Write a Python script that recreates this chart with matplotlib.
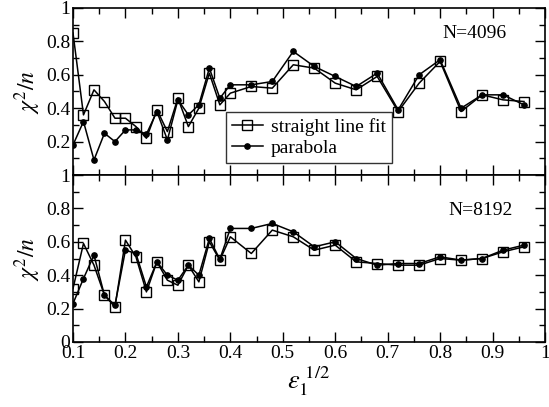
import matplotlib
matplotlib.use("Agg")
import matplotlib.pyplot as plt
from matplotlib.ticker import MultipleLocator

plt.rcParams['font.family'] = ['Liberation Serif', 'DejaVu Serif']
plt.rcParams['mathtext.fontset'] = 'stix'

x = [0.10, 0.12, 0.14, 0.16, 0.18, 0.20, 0.22, 0.24, 0.26, 0.28, 0.30, 0.32, 0.34, 0.36, 0.38, 0.40,
     0.44, 0.48, 0.52, 0.56, 0.60, 0.64, 0.68, 0.72, 0.76, 0.80, 0.84, 0.88, 0.92, 0.96]

line_4096 = [0.85, 0.36, 0.51, 0.44, 0.34, 0.34, 0.29, 0.22, 0.39, 0.26, 0.46, 0.29, 0.40, 0.61, 0.42, 0.49,
             0.53, 0.52, 0.66, 0.64, 0.55, 0.51, 0.59, 0.38, 0.55, 0.68, 0.38, 0.48, 0.45, 0.44]
para_4096 = [0.18, 0.32, 0.09, 0.25, 0.20, 0.27, 0.27, 0.245, 0.38, 0.21, 0.45, 0.36, 0.42, 0.64, 0.46, 0.54,
             0.54, 0.56, 0.74, 0.65, 0.59, 0.53, 0.61, 0.39, 0.60, 0.69, 0.40, 0.48, 0.48, 0.42]

line_8192 = [0.32, 0.59, 0.46, 0.28, 0.21, 0.61, 0.51, 0.30, 0.48, 0.37, 0.34, 0.46, 0.36, 0.60, 0.49, 0.63,
             0.53, 0.67, 0.63, 0.55, 0.58, 0.48, 0.47, 0.46, 0.46, 0.50, 0.49, 0.50, 0.54, 0.57]
para_8192 = [0.23, 0.38, 0.52, 0.28, 0.22, 0.55, 0.53, 0.33, 0.48, 0.40, 0.37, 0.46, 0.40, 0.62, 0.495, 0.68,
             0.68, 0.71, 0.66, 0.57, 0.60, 0.50, 0.46, 0.47, 0.47, 0.51, 0.49, 0.50, 0.55, 0.58]

labels = ["straight line fit", "parabola"]
panel_texts = ["N=4096", "N=8192"]

W, H = 549, 407
fig = plt.figure(figsize=(W/100, H/100), dpi=100)
left, right = 73/W, 545/W
ax1 = fig.add_axes([left, 1-175/H, right-left, 167/H])
ax2 = fig.add_axes([left, 1-342/H, right-left, 167/H])

fs = 14
for ax, ly, py, txt, tpos in [(ax1, line_4096, para_4096, panel_texts[0], (0.804, 0.85)),
                              (ax2, line_8192, para_8192, panel_texts[1], (0.816, 0.79))]:
    ax.plot(x, ly, color='black', lw=1.1, marker='s', ms=7, mfc='none', mec='black', mew=1.0, label=labels[0])
    ax.plot(x, py, color='black', lw=1.1, marker='o', ms=3.8, mfc='black', mec='black', label=labels[1])
    ax.set_xlim(0.1, 1.0)
    ax.set_ylim(0, 1)
    ax.xaxis.set_major_locator(MultipleLocator(0.1))
    ax.xaxis.set_minor_locator(MultipleLocator(0.05))
    ax.yaxis.set_major_locator(MultipleLocator(0.2))
    ax.yaxis.set_minor_locator(MultipleLocator(0.1))
    ax.tick_params(which='both', direction='in', top=True, right=True, labelsize=fs, pad=2)
    ax.tick_params(which='major', length=7, width=1)
    ax.tick_params(which='minor', length=4, width=1)
    for s in ax.spines.values():
        s.set_linewidth(1.2)
    ax.text(tpos[0], tpos[1], txt, fontsize=fs, va='center', ha='left')
    ax.set_ylabel(r'$\chi^{2}/n$', fontsize=17, labelpad=2)

ax1.tick_params(labelbottom=False)
ax1.set_yticks([0.2, 0.4, 0.6, 0.8, 1.0])
ax1.set_yticklabels(['0.2', '0.4', '0.6', '0.8', '1'])
ax2.set_yticks([0, 0.2, 0.4, 0.6, 0.8, 1.0])
ax2.set_yticklabels(['0', '0.2', '0.4', '0.6', '0.8', '1'])
ax2.set_xticks([0.1, 0.2, 0.3, 0.4, 0.5, 0.6, 0.7, 0.8, 0.9, 1.0])
ax2.set_xticklabels(['0.1', '0.2', '0.3', '0.4', '0.5', '0.6', '0.7', '0.8', '0.9', '1'])
ax2.set_xlabel(r'$\epsilon_{\mathit{1}}^{\ \mathit{1/2}}$', fontsize=19, labelpad=2)

leg = ax1.legend(loc='lower left', bbox_to_anchor=((226-73)/472, (175-163)/167), fontsize=fs,
                 frameon=True, fancybox=False, edgecolor='black', borderpad=0.3,
                 handlelength=1.6, handletextpad=0.4, labelspacing=0.2, borderaxespad=0)
leg.get_frame().set_linewidth(1.0)

fig.savefig('out.png', dpi=100)
